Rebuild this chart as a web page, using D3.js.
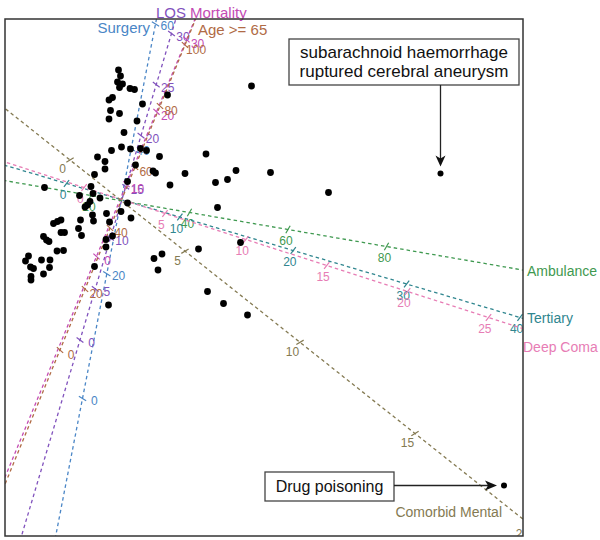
<!DOCTYPE html>
<html><head><meta charset="utf-8">
<script src="https://cdn.jsdelivr.net/npm/d3@7/dist/d3.min.js"></script>
<style>body{margin:0;background:#fff}svg{display:block;font-family:"Liberation Sans",Arial,sans-serif}</style>
</head><body><svg id="chart" width="600" height="540"></svg>
<script>
// ---- data (biplot coordinates) ----
const pointX = [-0.13,-0.09,-0.15,-0.05,-0.11,0.10,0.19,2.53,-0.25,-0.32,0.85,-0.29,-0.11,-0.32,0.35,0.24,-0.02,-0.07,-0.27,0.11,0.31,0.43,0.69,1.62,-0.55,-0.40,-0.40,0.21,-0.61,0.56,0.61,1.20,2.22,2.05,1.81,2.91,0.90,0.05,-1.61,-0.68,-0.91,-0.64,-0.50,6.31,4.07,0.05,1.85,-0.70,-0.75,-0.80,-0.37,-0.08,0.12,-0.89,-0.65,-0.63,-0.31,-1.43,-1.35,-1.28,-0.93,-1.28,-1.21,-0.87,-0.25,-1.63,-1.57,-1.52,-0.38,-0.38,-1.36,-1.23,2.31,1.47,0.58,0.74,0.66,-1.93,-1.99,-1.67,-1.50,-1.51,-1.83,-1.89,-1.63,-1.88,-1.88,-0.61,1.65,1.97,2.45,-0.33,7.58];
const pointY = [2.66,2.54,2.42,2.38,2.31,2.29,2.27,2.34,2.11,2.06,2.16,1.85,1.79,1.68,1.98,1.64,1.41,1.12,1.05,1.08,1.09,1.05,0.93,0.98,0.92,0.83,0.68,0.76,0.57,0.64,0.60,0.59,0.65,0.47,0.41,0.61,0.36,0.43,0.31,0.33,0.15,0.19,0.10,0.59,0.21,0.00,-0.09,0.03,-0.04,-0.08,-0.21,-0.17,-0.30,-0.34,-0.24,-0.36,-0.38,-0.41,-0.37,-0.34,-0.51,-0.59,-0.59,-0.65,-0.66,-0.67,-0.74,-0.77,-0.73,-0.88,-0.96,-0.95,-0.79,-0.92,-1.11,-1.02,-1.34,-1.06,-1.16,-1.14,-1.14,-1.29,-1.31,-1.28,-1.42,-1.47,-1.54,-1.27,-1.77,-2.01,-2.24,-2.04,-5.65];

const axisNames = ["Surgery","LOS","Mortality","Age >= 65","Ambulance","Tertiary","Deep Coma","Comorbid Mental"];
const axisTicks = [[0,20,40,60],[0,5,10,15,20,25,30],[0,10,20,30],[0,20,40,60,80,100],[20,40,60,80],[0,10,20,30,40],[0,5,10,15,20,25],[0,5,10,15,20]];
const axisCalValues = [[0,60],[0,30],[0,30],[0,100],[40,80],[0,40],[5,25],[0,15]];
const axisCalX = [[-0.85,0.61],[-0.90,0.93],[-0.57,1.23],[-1.30,1.20],[1.29,5.23],[-1.17,7.90],[0.80,7.27],[-1.10,5.80]];
const axisCalY = [[-3.91,3.58],[-2.74,3.39],[-1.07,3.27],[-2.94,3.16],[-0.19,-0.87],[0.39,-2.29],[-0.21,-2.29],[0.86,-4.61]];

const annotationText = [["subarachnoid haemorrhage","ruptured cerebral aneurysm"],["Drug poisoning"]];
const annotationPoint = [43, 92];

// ---- styles / layout ----
const colors = ["#4a86c6","#8152bd","#c34bb4","#b06b45","#3f9950","#30868f","#e77db5","#847a52"];
const frame = {l:5, r:523, t:19, b:536};
const svg = d3.select("#chart");
const x = d3.scaleLinear().domain([-2.4,7.96]).range([frame.l,frame.r]);
const y = d3.scaleLinear().domain([-6.66,3.68]).range([frame.b,frame.t]);

svg.append("defs").append("clipPath").attr("id","clip")
  .append("rect").attr("x",frame.l).attr("y",frame.t).attr("width",frame.r-frame.l).attr("height",frame.b-frame.t);

const gAx = svg.append("g").attr("clip-path","url(#clip)");

axisNames.forEach((name,i)=>{
  const ax = d3.scaleLinear().domain(axisCalValues[i]).range(axisCalX[i]);
  const ay = d3.scaleLinear().domain(axisCalValues[i]).range(axisCalY[i]);
  const P = v => [x(ax(v)), y(ay(v))];
  const [v0,v1] = axisCalValues[i];
  const span = v1 - v0;
  const a = P(v0 - 20*span), b = P(v1 + 20*span);
  gAx.append("line").attr("x1",a[0]).attr("y1",a[1]).attr("x2",b[0]).attr("y2",b[1])
    .attr("stroke",colors[i]).attr("stroke-width",1.3).attr("stroke-dasharray","3.5,3");
  const p0 = P(v0), p1 = P(v1);
  let dx = p1[0]-p0[0], dy = p1[1]-p0[1];
  const len = Math.hypot(dx,dy); dx/=len; dy/=len;
  const nx = -dy, ny = dx;
  axisTicks[i].forEach(v=>{
    const p = P(v);
    gAx.append("line").attr("x1",p[0]-4*nx+1.5*dx).attr("y1",p[1]-4*ny+1.5*dy)
      .attr("x2",p[0]+4*nx-1.5*dx).attr("y2",p[1]+4*ny-1.5*dy)
      .attr("stroke",colors[i]).attr("stroke-width",1.2);
    gAx.append("text").attr("x",p[0]+12*nx).attr("y",p[1]+12*ny)
      .attr("text-anchor","middle").attr("dominant-baseline","central")
      .attr("font-size",12).attr("fill",colors[i]).text(v);
  });
});

// axis titles
const titleLayout = [
  {x:150,y:27,a:"end"},{x:186,y:12,a:"end"},{x:190,y:12,a:"start"},{x:198,y:29,a:"start"},
  {x:527,y:271,a:"start"},{x:527,y:318,a:"start"},{x:523,y:347,a:"start"},{x:502,y:512,a:"end"}
];
axisNames.forEach((name,i)=>{
  const t = titleLayout[i];
  svg.append("text").attr("x",t.x).attr("y",t.y).attr("text-anchor",t.a)
    .attr("dominant-baseline","central").attr("font-size",i>=4?14:15)
    .attr("fill",colors[i]).text(name);
});

// points
svg.append("g").selectAll("circle").data(pointX).join("circle")
  .attr("cx",(d)=>x(d)).attr("cy",(d,i)=>y(pointY[i]))
  .attr("r",(d,i)=>annotationPoint.includes(i)?3:3.4).attr("fill","#000");

// frame
svg.append("rect").attr("x",frame.l).attr("y",frame.t).attr("width",frame.r-frame.l).attr("height",frame.b-frame.t)
  .attr("fill","none").attr("stroke","#333").attr("stroke-width",1.5);

// annotations
const gA = svg.append("g");
{
  const px = x(pointX[annotationPoint[0]]), py = y(pointY[annotationPoint[0]]);
  gA.append("rect").attr("x",289).attr("y",39).attr("width",230).attr("height",46)
    .attr("fill","#fff").attr("stroke","#444").attr("stroke-width",1.3);
  annotationText[0].forEach((s,k)=>gA.append("text").attr("x",404).attr("y",58+k*19)
    .attr("text-anchor","middle").attr("font-size",17).attr("fill","#111").text(s));
  gA.append("line").attr("x1",px).attr("y1",85).attr("x2",px).attr("y2",py-14).attr("stroke","#222").attr("stroke-width",1.3);
  gA.append("path").attr("d",`M${px},${py-7}L${px-5},${py-18}L${px},${py-15}L${px+5},${py-18}Z`).attr("fill","#111");
}
{
  const px = x(pointX[annotationPoint[1]]), py = y(pointY[annotationPoint[1]]);
  gA.append("rect").attr("x",265).attr("y",472).attr("width",129).attr("height",29)
    .attr("fill","#fff").attr("stroke","#444").attr("stroke-width",1.3);
  gA.append("text").attr("x",329.5).attr("y",492).attr("text-anchor","middle")
    .attr("font-size",16).attr("fill","#111").text(annotationText[1][0]);
  gA.append("line").attr("x1",394).attr("y1",py).attr("x2",px-14).attr("y2",py).attr("stroke","#222").attr("stroke-width",1.3);
  gA.append("path").attr("d",`M${px-7},${py}L${px-19},${py-5}L${px-16},${py}L${px-19},${py+5}Z`).attr("fill","#111");
}
</script></body></html>
